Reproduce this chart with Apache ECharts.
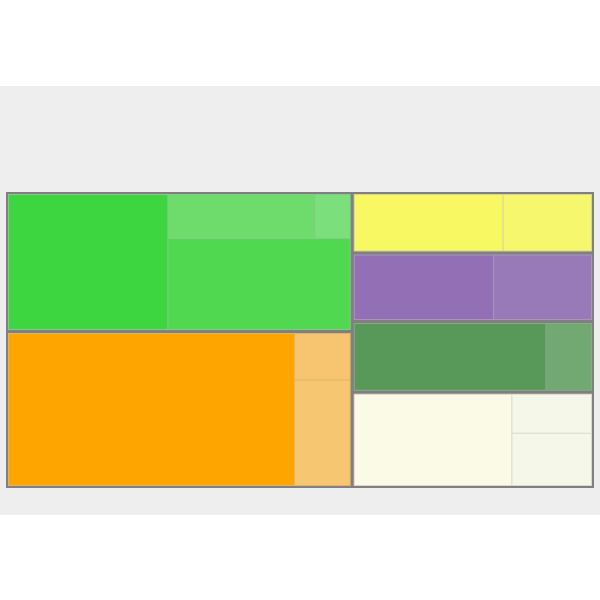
<!DOCTYPE html>
<html>
<head>
<meta charset="utf-8">
<style>
  html, body { margin: 0; padding: 0; background: #ffffff; }
  #chart { width: 600px; height: 600px; }
</style>
<script src="https://cdn.jsdelivr.net/npm/echarts@6/dist/echarts.min.js"></script>
</head>
<body>
<div id="chart"></div>
<script>
// ---- values (leaf sizes, grouped) ----
// green: big, top-left, top-right, bottom
const greenValues   = [220.7, 66.5, 17.0, 168.8];
// orange: big, top-right, bottom-right
const orangeValues  = [442.6, 27.6, 61.2];
const yellowValues  = [90.0, 54.0];
const purpleValues  = [95.2, 67.3];
const dkgreenValues = [134.9, 33.2];
// cream: big, top-right, bottom-right
const creamValues   = [149.7, 32.9, 43.7];

// ---- colours (styles) ----
const greenColors   = ['#3dd641', '#6ddc6d', '#7bdf7b', '#50d950'];
const orangeColors  = ['#ffa500', '#f7c56f', '#f7c670'];
const yellowColors  = ['#f8f862', '#f6f76c'];
const purpleColors  = ['#9370b5', '#997ab8'];
const dkgreenColors = ['#589858', '#72a872'];
const creamColors   = ['#fafae6', '#f5f7e8', '#f5f7e8'];
const groupLineColors = ['#88c888', '#dcb46c', '#d4d494', '#a994bc', '#88aa88', '#d8d9cc'];
const rootColor = '#808080';
const backColor = '#eeeeee';

function leaf(v, c) { return { value: v, color: c }; }

// hierarchy (slice-and-dice, direction alternates with depth)
const tree = {
  children: [
    { children: [
      { group: 0, children: [
        leaf(greenValues[0], greenColors[0]),
        { children: [
          { children: [leaf(greenValues[1], greenColors[1]), leaf(greenValues[2], greenColors[2])] },
          leaf(greenValues[3], greenColors[3])
        ] }
      ] },
      { group: 1, children: [
        leaf(orangeValues[0], orangeColors[0]),
        { children: [leaf(orangeValues[1], orangeColors[1]), leaf(orangeValues[2], orangeColors[2])] }
      ] }
    ] },
    { children: [
      { group: 2, children: [leaf(yellowValues[0], yellowColors[0]), leaf(yellowValues[1], yellowColors[1])] },
      { group: 3, children: [leaf(purpleValues[0], purpleColors[0]), leaf(purpleValues[1], purpleColors[1])] },
      { group: 4, children: [leaf(dkgreenValues[0], dkgreenColors[0]), leaf(dkgreenValues[1], dkgreenColors[1])] },
      { group: 5, children: [
        leaf(creamValues[0], creamColors[0]),
        { children: [leaf(creamValues[1], creamColors[1]), leaf(creamValues[2], creamColors[2])] }
      ] }
    ] }
  ]
};

function total(n) {
  return n.children ? n.children.reduce((s, c) => s + total(c), 0) : n.value;
}

const roots = [], groups = [], leaves = [];
function layout(node, x0, y0, x1, y1, depth, groupRect) {
  if (node.group !== undefined) {
    groupRect = [x0, y0, x1, y1];
    groups.push({ kind: 'group', r: [x0, y0, x1, y1], color: groupLineColors[node.group] });
  }
  if (!node.children) {
    leaves.push({ kind: 'leaf', r: [x0, y0, x1, y1], g: groupRect, color: node.color });
    return;
  }
  const sum = total(node);
  let pos = depth % 2 === 0 ? x0 : y0;
  node.children.forEach(ch => {
    const share = total(ch) / sum;
    if (depth % 2 === 0) {
      const w = (x1 - x0) * share;
      layout(ch, pos, y0, pos + w, y1, depth + 1, groupRect);
      pos += w;
    } else {
      const h = (y1 - y0) * share;
      layout(ch, x0, pos, x1, pos + h, depth + 1, groupRect);
      pos += h;
    }
  });
}
roots.push({ kind: 'root', r: [0, 0, 1, 1], color: rootColor });
layout(tree, 0, 0, 1, 1, 0, null);
const items = roots.concat(groups, leaves);

const chart = echarts.init(document.getElementById('chart'), null, { renderer: 'canvas' });
chart.setOption({
  animation: false,
  backgroundColor: '#ffffff',
  graphic: [{
    type: 'rect', z: -10, silent: true,
    shape: { x: 0, y: 86, width: 600, height: 429 },
    style: { fill: backColor }
  }],
  grid: { left: 6.5, top: 192.5, width: 587, height: 295, show: false },
  xAxis: { type: 'value', min: 0, max: 1, show: false },
  yAxis: { type: 'value', min: 0, max: 1, inverse: true, show: false },
  series: [{
    type: 'custom',
    silent: true,
    clip: false,
    data: items.map(d => [d.r[0], d.r[1], d.r[2], d.r[3]]),
    encode: { x: [0, 2], y: [1, 3] },
    renderItem: function (params, api) {
      const it = items[params.dataIndex];
      const a = api.coord([it.r[0], it.r[1]]);
      const b = api.coord([it.r[2], it.r[3]]);
      let x0 = Math.min(a[0], b[0]), x1 = Math.max(a[0], b[0]);
      let y0 = Math.min(a[1], b[1]), y1 = Math.max(a[1], b[1]);
      if (it.kind === 'root') {
        x0 -= 0.5; y0 -= 0.5; x1 += 0.5; y1 += 0.5;
      } else if (it.kind === 'group') {
        x0 += 1.5; y0 += 1.5; x1 -= 1.5; y1 -= 1.5;
      } else {
        const ga = api.coord([it.g[0], it.g[1]]);
        const gb = api.coord([it.g[2], it.g[3]]);
        const gx0 = Math.min(ga[0], gb[0]), gx1 = Math.max(ga[0], gb[0]);
        const gy0 = Math.min(ga[1], gb[1]), gy1 = Math.max(ga[1], gb[1]);
        x0 = Math.max(x0 + 0.5, gx0 + 2.5); x1 = Math.min(x1 - 0.5, gx1 - 2.5);
        y0 = Math.max(y0 + 0.5, gy0 + 2.5); y1 = Math.min(y1 - 0.5, gy1 - 2.5);
      }
      return {
        type: 'rect',
        shape: { x: x0, y: y0, width: Math.max(x1 - x0, 0), height: Math.max(y1 - y0, 0) },
        style: { fill: it.color }
      };
    }
  }]
});
</script>
</body>
</html>
